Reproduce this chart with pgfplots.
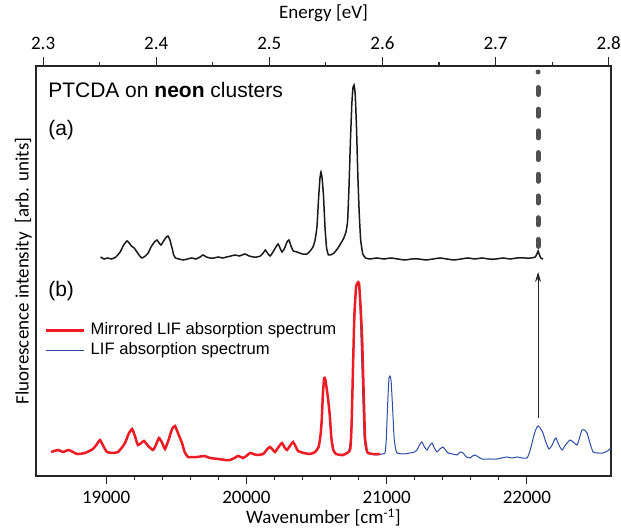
\documentclass[border=0pt]{standalone}
\usepackage{pgfplots}
\pgfplotsset{compat=1.18}
\usetikzlibrary{arrows.meta}
\usepackage{fontspec}
\setmainfont{Carlito}
\newfontfamily\arialf{Liberation Sans}

\definecolor{cred}{RGB}{237,28,36}
\definecolor{cblue}{RGB}{45,75,165}
\definecolor{cdash}{RGB}{80,80,80}

% emission spectrum (a), y in px above the bottom spine
\pgfplotstableread{
w y
18960 219
18985 217
19010 218
19040 217
19070 219
19100 224
19125 231
19149 235
19165 233
19180 230
19200 228
19220 224
19240 220
19256 218
19280 220
19300 223
19320 229
19345 234
19363 236
19378 233
19391 231
19410 235
19430 239
19441 240
19455 236
19470 228
19482 221
19495 218
19520 217
19550 216
19580 217
19610 218
19640 217
19670 219
19691 221
19715 219
19740 218
19770 218
19800 219
19830 218
19860 219
19890 220
19920 221
19950 220
19990 222
20020 220
20050 219
20075 219
20100 220
20120 223
20135 226
20150 223
20169 220
20190 224
20210 229
20226 232
20240 228
20254 224
20270 227
20290 234
20304 236
20318 230
20335 225
20361 224
20400 222
20432 222
20455 225
20475 229
20490 236
20504 250
20515 278
20525 298
20532 304
20540 298
20550 280
20561 248
20572 228
20585 221
20600 221
20625 223
20653 228
20675 233
20695 238
20710 244
20722 255
20732 290
20742 335
20752 372
20760 388
20768 391
20776 382
20785 350
20795 300
20805 262
20815 236
20830 222
20850 218
20880 217
20930 218
20980 217
21030 218
21080 217
21130 216
21180 217
21230 217
21280 216
21330 217
21380 218
21430 217
21480 216
21530 217
21580 218
21630 217
21680 218
21730 217
21780 217
21830 218
21880 217
21930 218
21980 218
22030 218
22060 219
22072 222
22080 225
22090 221
22100 218
22115 217
}\emis

% mirrored LIF absorption
\pgfplotstableread{
w y
18607 24
18657 26
18693 24
18735 26
18792 22
18849 23
18906 27
18935 32
18956 36
18980 30
19006 24
19050 23
19085 24
19110 28
19135 33
19160 42
19185 47
19205 40
19227 31
19250 33
19270 35
19300 30
19334 26
19355 31
19377 38
19400 33
19420 27
19445 36
19470 47
19491 50
19515 42
19541 33
19560 24
19584 19
19648 19
19700 20
19741 18
19800 17
19850 16
19883 16
19915 18
19940 20
19960 19
19976 18
20000 20
20026 23
20050 22
20076 21
20120 22
20150 27
20169 29
20190 26
20204 24
20230 29
20254 33
20275 28
20290 26
20310 30
20333 34
20350 30
20368 25
20410 23
20454 22
20490 24
20515 29
20528 40
20537 55
20547 85
20555 98
20562 97
20570 90
20580 80
20594 62
20606 38
20620 26
20640 22
20689 21
20739 26
20750 50
20760 106
20770 160
20782 189
20792 193
20803 193
20814 170
20825 139
20835 90
20846 39
20858 26
20867 23
20900 22
20953 22
}\mirr

% LIF absorption
\pgfplotstableread{
w y
20668 21
20718 23
20735 28
20746 40
20753 70
20760 100
20768 140
20775 170
20782 186
20789 192
20796 192
20803 190
20810 172
20817 140
20828 90
20839 40
20850 28
20860 24
20917 21
20967 22
20989 23
20997 35
21003 56
21010 80
21017 98
21024 100
21032 95
21042 70
21053 39
21063 28
21074 23
21120 22
21167 23
21200 24
21217 26
21235 31
21252 34
21270 29
21288 26
21305 30
21324 33
21340 28
21359 24
21380 27
21402 29
21420 26
21438 23
21470 22
21502 21
21525 24
21545 23
21570 19
21595 18
21612 20
21630 21
21655 19
21680 17
21730 17
21787 17
21820 18
21858 19
21895 18
21930 19
21965 18
22001 18
22020 24
22037 33
22055 43
22072 49
22080 50
22095 48
22115 43
22135 34
22158 27
22180 31
22200 37
22208 38
22225 32
22251 26
22275 31
22308 36
22330 34
22358 31
22375 38
22393 46
22410 46
22429 43
22450 33
22472 24
22505 23
22543 23
22575 25
22600 28
}\absn

\begin{document}
\begin{tikzpicture}
\pgfplotsset{
  every tick label/.append style={font=\fontsize{19}{19}\selectfont},
  every axis label/.append style={font=\fontsize{19}{22}\selectfont},
  /pgf/number format/assume math mode=true,
}
\begin{axis}[
  width=575pt, height=410pt, scale only axis,
  xmin=18500, xmax=22600, ymin=0, ymax=410,
  tick align=outside,
  xtick pos=bottom,
  ytick pos=both,
  xtick={19000,20000,21000,22000},
  minor x tick num=4,
  ytick=\empty,
  minor ytick={17.7,35.4,...,405},
  major tick length=8pt,
  minor tick length=4pt,
  scaled x ticks=false,
  xticklabel style={yshift=-4pt, /pgf/number format/1000 sep={}},
  axis line style={line width=1.3pt, black!85},
  every tick/.style={line width=1.1pt, black!85},
  xlabel={Wavenumber [cm\textsuperscript{-1}]},
  xlabel style={yshift=2pt},
  ylabel={Fluorescence intensity\ \ [arb. units]},
  ylabel style={at={(axis description cs:-0.007,0.5)}, anchor=south, inner sep=0pt},
  legend cell align=left,
  legend image code/.code={\draw[#1] (0pt,0pt) -- (38pt,0pt);},
  legend style={at={(axis description cs:0.0157,0.375)}, anchor=north west,
    draw=none, fill=none, inner sep=0pt, row sep=4pt, column sep=5pt,
    font=\arialf\fontsize{16.6}{16.6}\selectfont,
    nodes={inner sep=0pt, text height=12pt, text depth=4pt}},
]
\addlegendimage{cred, line width=2.5pt}
\addlegendentry{Mirrored LIF absorption spectrum}
\addlegendimage{cblue, line width=1pt}
\addlegendentry{LIF absorption spectrum}

\addplot[forget plot, black!90, line width=1.5pt, smooth, tension=0.25] table[x=w,y=y] {\emis};
\addplot[forget plot, cblue, line width=1pt, smooth, tension=0.3] table[x=w,y=y] {\absn};
\addplot[forget plot, cred, line width=2.5pt, smooth, tension=0.3] table[x=w,y=y] {\mirr};

\draw[cdash, line width=5pt, line cap=round,
  dash pattern=on 0pt off 15.5pt on 7pt off 14.7pt on 7pt off 14.7pt on 7pt off 14.7pt on 7pt off 14.7pt on 7pt off 14.7pt on 7pt off 14.7pt on 7pt off 14.7pt on 7pt off 30pt]
  (axis cs:22080,404) -- (axis cs:22080,227);
\draw[black!85, line width=1pt, -{Stealth[length=10pt,width=6pt]}]
  (axis cs:22080,58) -- (axis cs:22080,204);

\node[anchor=west, inner sep=0pt, font=\arialf\fontsize{21}{21}\selectfont]
  at (axis cs:18586,386) {PTCDA on \textbf{neon} clusters};
\node[anchor=west, inner sep=0pt, font=\arialf\fontsize{21}{21}\selectfont]
  at (axis cs:18586,346) {(a)};
\node[anchor=west, inner sep=0pt, font=\arialf\fontsize{21}{21}\selectfont]
  at (axis cs:18586,185) {(b)};

\coordinate (bl) at (rel axis cs:0,0);
\coordinate (tr) at (rel axis cs:1,1);
\end{axis}
\begin{axis}[
  width=575pt, height=410pt, scale only axis,
  xmin=2.29370, xmax=2.80204, ymin=0, ymax=1,
  axis x line*=top, axis y line=none,
  tick align=outside,
  xtick={2.3,2.4,2.5,2.6,2.7,2.8},
  minor x tick num=1,
  major tick length=9pt,
  minor tick length=4pt,
  axis line style={line width=1.3pt, black!85},
  every tick/.style={line width=1.1pt, black!85},
  xticklabel style={yshift=4pt, /pgf/number format/.cd, fixed, fixed zerofill, precision=1},
  xlabel={Energy [eV]},
  xlabel style={yshift=8pt},
]
\end{axis}
\pgfresetboundingbox
\path ([shift={(-36pt,-53pt)}]bl) rectangle ([shift={(10pt,66pt)}]tr);
\end{tikzpicture}
\end{document}
